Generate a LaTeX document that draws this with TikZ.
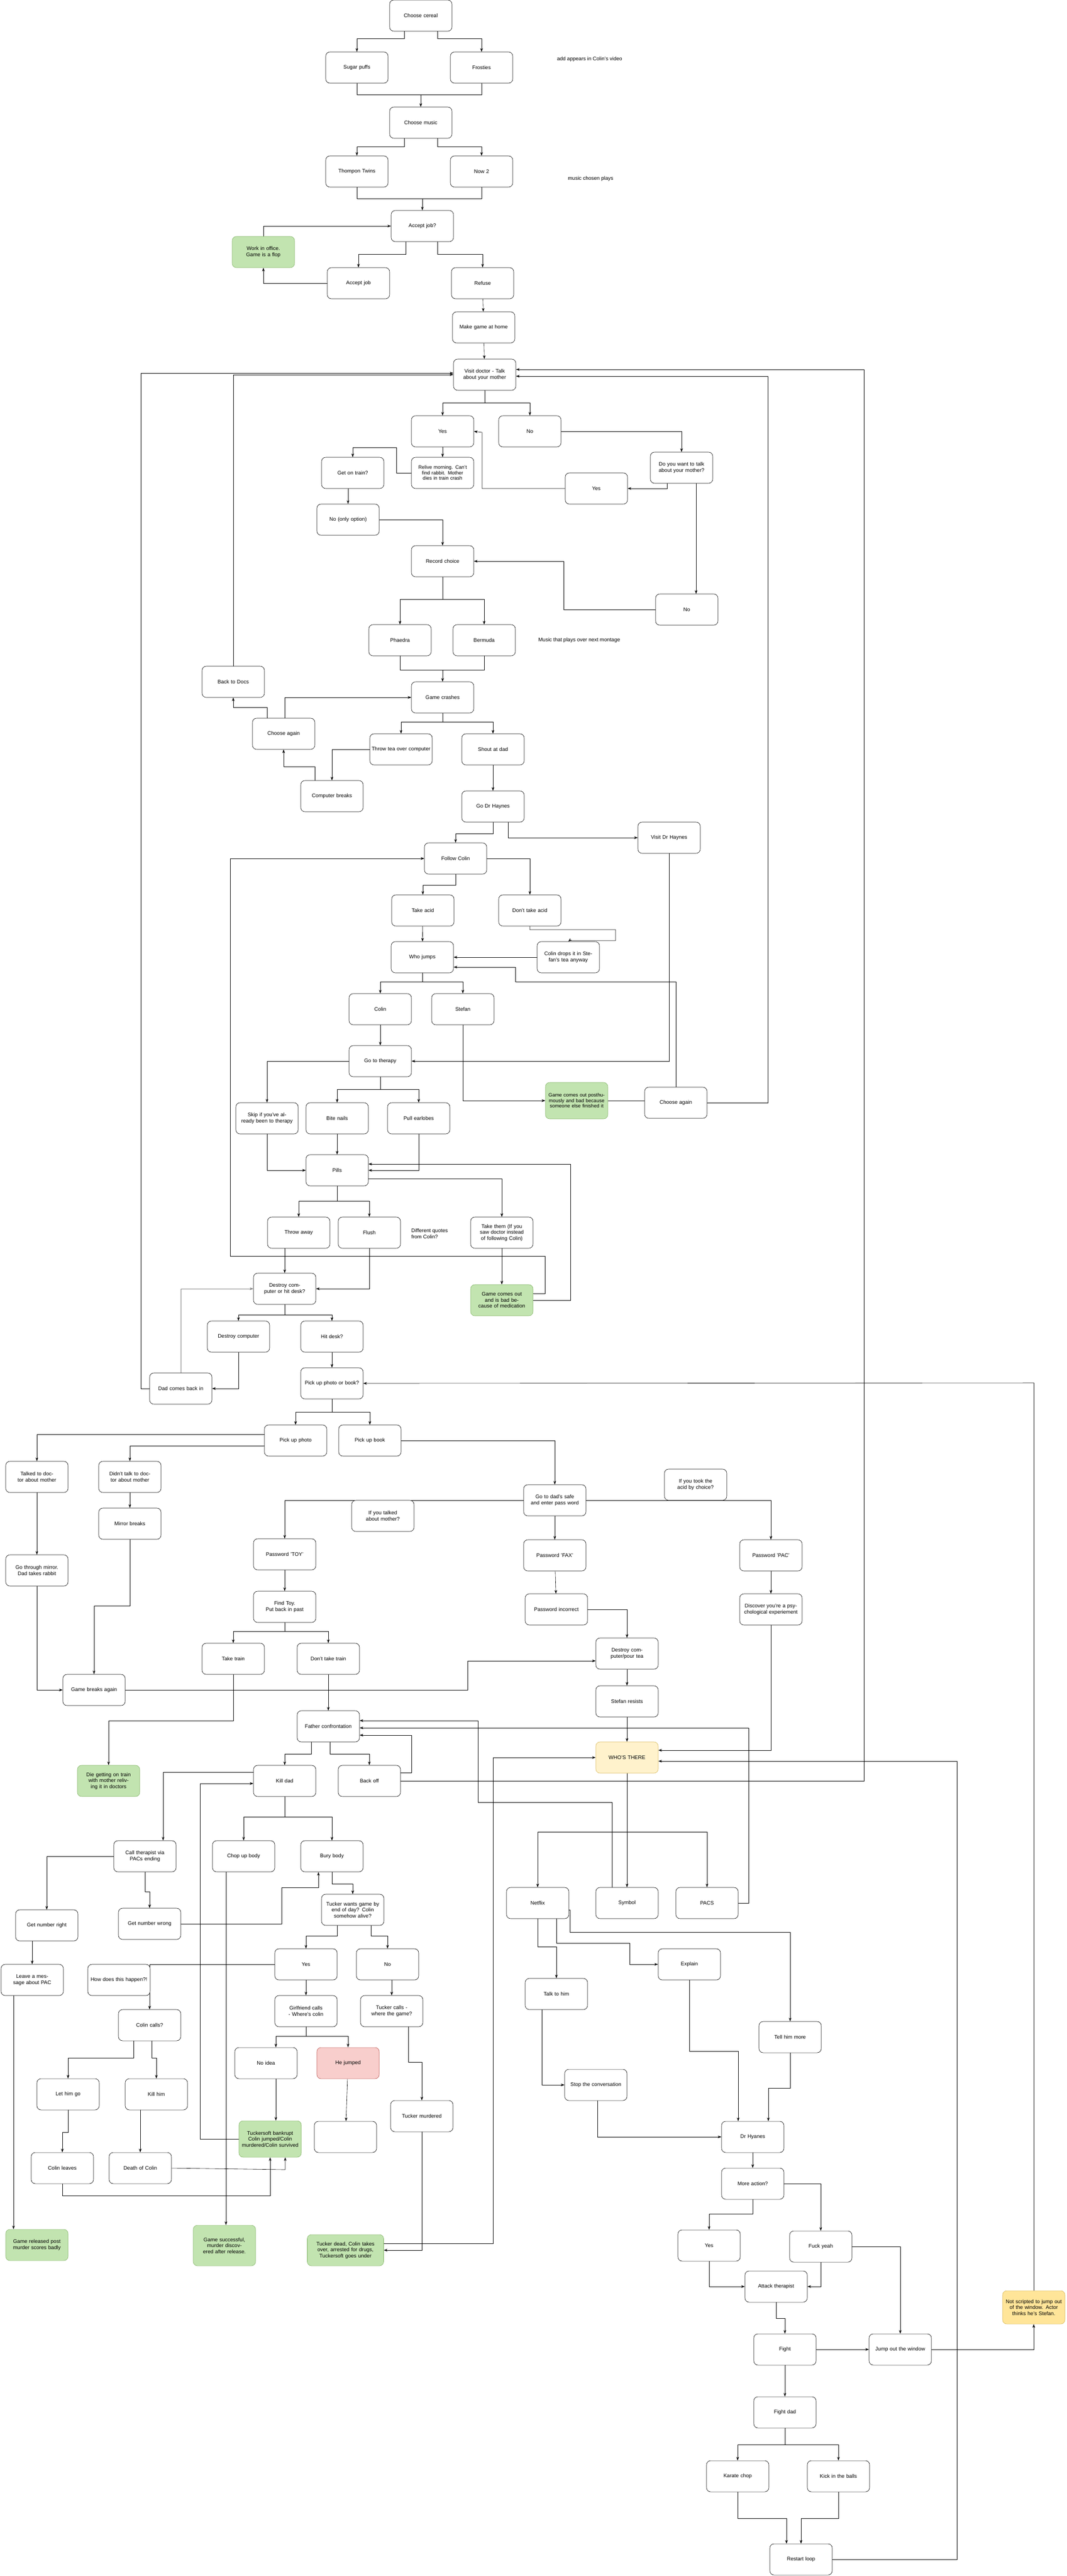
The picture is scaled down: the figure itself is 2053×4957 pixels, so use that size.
\documentclass[tikz,border=0pt]{standalone}
\usepackage{fontspec}
\setmainfont{Liberation Sans}
\usetikzlibrary{arrows.meta,calc,backgrounds}
\definecolor{gf}{HTML}{C2E4B0}\definecolor{gd}{HTML}{82B366}
\definecolor{yf}{HTML}{FFF2CC}\definecolor{yd}{HTML}{D6B656}
\definecolor{yf2}{HTML}{FFE599}
\definecolor{rf}{HTML}{F8CECC}\definecolor{rd}{HTML}{B85450}
\begin{document}
\begin{tikzpicture}[x=1pt,y=-1pt,
 box/.style={draw,rounded corners=8pt,minimum width=120pt,minimum height=60pt,text width=114pt,align=center,inner sep=2pt,font=\fontsize{10}{11.5}\selectfont,fill=white},
 green/.style={box,fill=gf,draw=gd},
 yel/.style={box,fill=yf,draw=yd},
 red/.style={box,fill=rf,draw=rd},
 lab/.style={font=\fontsize{10}{11.5}\selectfont,align=left},
 a/.style={-{Stealth[length=7pt,width=5pt]},line width=0.6pt},
 every path/.style={line width=0.6pt}]
\useasboundingbox (0,0) rectangle (2053,4957);
% nodes
\node[box] (cc) at (810,30) {Choose cereal};
\node[box] (sp) at (687,130) {Sugar puffs};
\node[box] (fr) at (927,130) {Frosties};
\node[lab] (l1) at (1135,114) {add appears in Colin's video};
\node[box] (cm) at (810,236) {Choose music};
\node[box] (tt) at (687,330) {Thompon Twins};
\node[box] (nw) at (927,330) {Now 2};
\node[lab] (l2) at (1137,344) {music chosen plays};
\node[box] (aj) at (813,435) {Accept job?};
\node[green] (wo) at (507,485) {Work in office.\\Game is a flop};
\node[box] (ajb) at (690,545) {Accept job};
\node[box] (rf) at (929,545) {Refuse};
\node[box] (mg) at (931,630) {Make game at home};
\node[box] (vd) at (933,721) {Visit doctor - Talk about your mother};
\node[box] (y1) at (852,830) {Yes};
\node[box] (n1) at (1020,830) {No};
\node[box] (got) at (679,910) {Get on train?};
\node[box,font=\fontsize{9.5}{10.5}\selectfont] (rel) at (852,910) {Relive morning. Can't find rabbit. Mother dies in train crash};
\node[box] (dyw) at (1312,900) {Do you want to talk about your mother?};
\node[box] (y2) at (1148,940) {Yes};
\node[box] (noo) at (670,1000) {No (only option)};
\node[box] (rc) at (852,1080) {Record choice};
\node[box] (n2) at (1322,1173) {No};
\node[box] (ph) at (770,1232) {Phaedra};
\node[box] (be) at (932,1232) {Bermuda};
\node[lab] (l3) at (1115,1232) {Music that plays over next montage};
\node[box] (btd) at (449,1312) {Back to Docs};
\node[box] (gc) at (852,1342) {Game crashes};
\node[box] (ca) at (546,1412) {Choose again};
\node[box] (tea) at (772,1442) {Throw tea over computer};
\node[box] (sad) at (949,1442) {Shout at dad};
\node[box] (cb) at (639,1532) {Computer breaks};
\node[box] (gdh) at (949,1552) {Go Dr Haynes};
\node[box] (vdh) at (1288,1612) {Visit Dr Haynes};
\node[box] (fc) at (877,1652) {Follow Colin};
\node[box] (ta) at (814,1752) {Take acid};
\node[box] (dta) at (1020,1752) {Don't take acid};
\node[box] (wj) at (813,1842) {Who jumps};
\node[box] (cd) at (1094,1842) {Colin drops it in Stefan's tea anyway};
\node[box] (col) at (732,1942) {Colin};
\node[box] (ste) at (891,1942) {Stefan};
\node[box] (gtt) at (732,2042) {Go to therapy};
\node[green,minimum height=70pt,font=\fontsize{9.5}{10.5}\selectfont] (gcp) at (1110,2118) {Game comes out posthumously and bad because someone else finished it};
\node[box] (ca2) at (1301,2122) {Choose again};
\node[box] (skip) at (514,2152) {Skip if you've already been to therapy};
\node[box] (bite) at (649,2152) {Bite nails};
\node[box] (pull) at (806,2152) {Pull earlobes};
\node[box] (pills) at (649,2252) {Pills};
\node[box] (tw) at (575,2372) {Throw away};
\node[box] (fl) at (711,2372) {Flush};
\node[lab] (l4) at (827,2374) {Different quotes\\from Colin?};
\node[box] (tk) at (966,2372) {Take them (If you saw doctor instead of following Colin)};
\node[box] (dch) at (548,2480) {Destroy computer or hit desk?};
\node[green] (gcm) at (966,2502) {Game comes out and is bad because of medication};
\node[box] (dc) at (459,2572) {Destroy computer};
\node[box] (hd) at (639,2572) {Hit desk?};
\node[box] (dcb) at (348,2672) {Dad comes back in};
\node[box] (pupb) at (639,2662) {Pick up photo or book?};
\node[box] (pph) at (569,2772) {Pick up photo};
\node[box] (pbk) at (712,2772) {Pick up book};
\node[box] (tdm) at (71,2842) {Talked to doctor about mother};
\node[box] (dtd) at (250,2842) {Didn't talk to doctor about mother};
\node[box] (acid) at (1339,2857) {If you took the acid by choice?};
\node[box] (safe) at (1068,2887) {Go to dad's safe and enter pass word};
\node[box] (itm) at (737,2917) {If you talked about mother?};
\node[box] (mb) at (250,2932) {Mirror breaks};
\node[box] (ptoy) at (548,2991) {Password 'TOY'};
\node[box] (pfax) at (1068,2993) {Password 'FAX'};
\node[box] (ppac) at (1484,2993) {Password 'PAC'};
\node[box] (gtm) at (71,3022) {Go through mirror. Dad takes rabbit};
\node[box] (ft) at (548,3092) {Find Toy.\\Put back in past};
\node[box] (pinc) at (1071,3097) {Password incorrect};
\node[box] (disc) at (1484,3097) {Discover you're a psychological experiement};
\node[box] (ttr) at (449,3192) {Take train};
\node[box] (dtt) at (632,3192) {Don't take train};
\node[box] (dcpt) at (1207,3182) {Destroy computer/pour tea};
\node[box] (gba) at (181,3252) {Game breaks again};
\node[box] (sr) at (1207,3274) {Stefan resists};
\node[box] (fcon) at (632,3322) {Father confrontation};
\node[yel] (wt) at (1207,3382) {WHO'S THERE};
\node[green] (die) at (209,3427) {Die getting on train with mother reliving it in doctors};
\node[box] (kd) at (548,3427) {Kill dad};
\node[box] (bo) at (711,3427) {Back off};
\node[box] (cth) at (279,3572) {Call therapist via PACs ending};
\node[box] (chop) at (469,3572) {Chop up body};
\node[box] (bb) at (639,3572) {Bury body};
\node[box] (nf) at (1035,3662) {Netflix};
\node[box] (sym) at (1207,3662) {Symbol};
\node[box] (pacs) at (1361,3662) {PACS};
\node[box] (twg) at (679,3675) {Tucker wants game by end of day? Colin somehow alive?};
\node[box] (gnr) at (90,3705) {Get number right};
\node[box] (gnw) at (288,3702) {Get number wrong};
\node[box] (y3) at (589,3780) {Yes};
\node[box] (n3) at (746,3780) {No};
\node[box] (ex) at (1327,3780) {Explain};
\node[box] (lm) at (62,3810) {Leave a message about PAC};
\node[box] (hdt) at (229,3810) {How does this happen?!};
\node[box] (talk) at (1071,3837) {Talk to him};
\node[box] (gfc) at (589,3870) {Girlfriend calls - Where's colin};
\node[box] (tc) at (754,3870) {Tucker calls - where the game?};
\node[box] (ccal) at (288,3897) {Colin calls?};
\node[box] (tmore) at (1521,3920) {Tell him more};
\node[box] (nid) at (512,3970) {No idea};
\node[red] (hj) at (670,3970) {He jumped};
\node[box] (lhg) at (131,4030) {Let him go};
\node[box] (khim) at (301,4030) {Kill him};
\node[box] (stop) at (1147,4012) {Stop the conversation};
\node[box] (tm) at (812,4072) {Tucker murdered};
\node[green,minimum height=70pt] (tb) at (520,4116) {Tuckersoft bankrupt Colin jumped/Colin murdered/Colin survived};
\node[box] (emp) at (665,4112) {};
\node[box] (dh) at (1449,4112) {Dr Hyanes};
\node[box] (clv) at (120,4172) {Colin leaves};
\node[box] (doc) at (270,4172) {Death of Colin};
\node[box] (ma) at (1449,4202) {More action?};
\node[green] (grl) at (71,4320) {Game released post murder scores badly};
\node[green,minimum height=78pt] (gs) at (432,4321) {Game successful, murder discovered after release.};
\node[green,minimum width=147pt,text width=140pt] (td) at (665,4330) {Tucker dead, Colin takes over, arrested for drugs, Tuckersoft goes under};
\node[box] (y4) at (1365,4321) {Yes};
\node[box] (fy) at (1580,4323) {Fuck yeah};
\node[box] (at) at (1494,4400) {Attack therapist};
\node[box,fill=yf2,draw=yd,minimum height=64pt] (ns) at (1990,4440) {Not scripted to jump out of the window. Actor thinks he's Stefan.};
\node[box] (fi) at (1511,4521) {Fight};
\node[box] (jw) at (1733,4521) {Jump out the window};
\node[box] (fdd) at (1511,4642) {Fight  dad};
\node[box] (kc) at (1420,4765) {Karate chop};
\node[box] (kb) at (1614,4765) {Kick in the balls};
\node[box] (rl) at (1542,4925) {Restart loop};
\coordinate (j1) at (810,182);
\coordinate (j2) at (813,382);
\coordinate (j3) at (852,1289);
\coordinate (jn) at (1990,2661);
% edges
\begin{scope}[on background layer]
\draw[a] ([xshift=-32pt]cc.south) -- (778,74) -- (687,74) -- (sp.north);
\draw[a] ([xshift=32pt]cc.south) -- (842,74) -- (927,74) -- (fr.north);
\draw (sp.south) -- (687,182) -- (927,182) -- (fr.south);
\draw[a] (j1) -- (cm.north);
\draw[a] ([xshift=-32pt]cm.south) -- (778,282) -- (687,282) -- (tt.north);
\draw[a] ([xshift=32pt]cm.south) -- (842,282) -- (927,282) -- (nw.north);
\draw (tt.south) -- (687,382) -- (927,382) -- (nw.south);
\draw[a] (j2) -- (aj.north);
\draw[a] ([xshift=-32pt]aj.south) -- (781,489) -- (690,489) -- (ajb.north);
\draw[a] ([xshift=29pt]aj.south) -- (842,489) -- (929,489) -- (rf.north);
\draw[a] (ajb.west) -| (wo.south);
\draw[a] (wo.north) |- (aj.west);
\draw[a] (rf) -- (mg);
\draw[a] (mg) -- (vd);
\draw[a] (vd.south) -- (933,775) -- (852,775) -- (y1.north);
\draw[a] (vd.south) -- (933,775) -- (1020,775) -- (n1.north);
\draw[a] (n1.east) -| (dyw.north);
\draw[a] ([xshift=-28pt]dyw.south) |- (y2.east);
\draw[a] ([xshift=28pt]dyw.south) -- ([xshift=18pt]n2.north);
\draw[a] (y2.west) -- (928,940) -- (928,832) -- (y1.east);
\draw[a] (y1) -- (rel);
\draw[a] (rel.west) -- (763,910) -- (763,861) -- (679,861) -- (got.north);
\draw[a] (noo.north |- got.south) -- (noo.north);
\draw[a] (noo.east) -| (rc.north);
\draw[a] (n2.west) -- (1085,1173) -- (1085,1080) -- (rc.east);
\draw[a] (rc.south) -- (852,1153) -- (770,1153) -- (ph.north);
\draw[a] (rc.south) -- (852,1153) -- (932,1153) -- (be.north);
\draw (ph.south) -- (770,1289) -- (932,1289) -- (be.south);
\draw[a] (j3) -- (gc.north);
\draw[a] (gc.south) -- (852,1389) -- (772,1389) -- (tea.north);
\draw[a] (gc.south) -- (852,1389) -- (949,1389) -- (sad.north);
\draw[a] (tea.west) -- (639,1442) -- (cb.north);
\draw[a] ([xshift=-33pt]cb.north) -- (606,1475) -- (546,1475) -- (ca.south);
\draw[a] ([xshift=-32pt]ca.north) -- (514,1361) -- (449,1361) -- (btd.south);
\draw[a] ([xshift=2pt]ca.north) |- (gc.west);
\draw[a] (btd.north) |- (vd.west);
\draw[a] (sad) -- (gdh);
\draw[a] (gdh.south) -- (949,1604) -- (877,1604) -- (fc.north);
\draw[a] ([xshift=29pt]gdh.south) |- (vdh.west);
\draw[a] (vdh.south) |- (gtt.east);
\draw[a] ([yshift=13pt]gcm.east) -- (1049,2489) -- (1049,2417) -- (443,2417) |- (fc.west);
\draw[a] (gcm.east) -- (1098,2502) -- (1098,2240) -- ([yshift=12pt]pills.east);
\draw[a] (fc.south) -- (877,1703) -- (814,1703) -- (ta.north);
\draw[a] (fc.east) -| (dta.north);
\draw[a] (ta) -- (wj);
\draw[a] (dta.south) -- (1020,1789) -- (1185,1789) -- (1185,1810) -- (1096,1810) -- (cd.north);
\draw[a] (cd.west) -- (wj.east);
\draw[a] (ca2.north) -- (1301,1889) -- (992,1889) -- (992,1861) -- ([yshift=-19pt]wj.east);
\draw[a] (wj.south) -- (813,1889) -- (732,1889) -- (col.north);
\draw[a] (wj.south) -- (813,1889) -- (891,1889) -- (ste.north);
\draw[a] (col) -- (gtt);
\draw[a] (ste.south) |- (gcp.west);
\draw (gcp.east) -- (gcp.east -| ca2.west);
\draw[a] (ca2.east) -- (1478,2122) |- ([yshift=-3pt]vd.east);
\draw[a] (gtt.west) -| (skip.north);
\draw[a] (gtt.south) -- (732,2096) -- (649,2096) -- (bite.north);
\draw[a] (gtt.south) -- (732,2096) -- (806,2096) -- (pull.north);
\draw[a] (skip.south) |- (pills.west);
\draw[a] (bite) -- (pills);
\draw[a] (pull.south) |- (pills.east);
\draw[a] ([yshift=-16pt]pills.east) -- (966,2268) -- (tk.north);
\draw[a] (pills.south) -- (649,2311) -- (575,2311) -- (tw.north);
\draw[a] (pills.south) -- (649,2311) -- (711,2311) -- (fl.north);
\draw[a] (dch.north |- tw.south) -- (dch.north);
\draw[a] (fl.south) |- (dch.east);
\draw[a] (tk) -- (gcm);
\draw[a] (dch.south) -- (548,2530) -- (459,2530) -- (dc.north);
\draw[a] (dch.south) -- (548,2530) -- (639,2530) -- (hd.north);
\draw[a] (dc.south) |- (dcb.east);
\draw[a,gray] (dcb.north) |- (dch.west);
\draw[a] (dcb.west) -- (271,2672) |- ([yshift=3pt]vd.west);
\draw[a] (hd) -- (pupb);
\draw[a] (pupb.south) -- (639,2717) -- (569,2717) -- (pph.north);
\draw[a] (pupb.south) -- (639,2717) -- (712,2717) -- (pbk.north);
\draw[a] ([yshift=12pt]pph.west) -| (tdm.north);
\draw[a] ([yshift=-10pt]pph.west) -| (dtd.north);
\draw[a] (pbk.east) -| (safe.north);
\draw[a] (tdm) -- (gtm);
\draw[a] (dtd) -- (mb);
\draw[a] (mb.south) -- (250,3090) -- (181,3090) -- (gba.north);
\draw[a] (gtm.south) |- (gba.west);
\draw[a] (gba.east) -- (900,3252) -- (900,3196) -- ([yshift=-14pt]dcpt.west);
\draw[a] (safe.west) -| (ptoy.north);
\draw[a] (safe) -- (pfax);
\draw[a] (safe.east) -| (ppac.north);
\draw[a] (ptoy) -- (ft);
\draw[a] (pfax) -- (pinc);
\draw[a] (ppac) -- (disc);
\draw[a] (ft.south) -- (548,3139) -- (449,3139) -- (ttr.north);
\draw[a] (ft.south) -- (548,3139) -- (632,3139) -- (dtt.north);
\draw[a] (pinc.east) -| (dcpt.north);
\draw[a] (dcpt) -- (sr);
\draw[a] (sr) -- (wt);
\draw[a] (disc.south) |- ([yshift=14pt]wt.east);
\draw[a] (ttr.south) -- (449,3311) -- (209,3311) -- (die.north);
\draw[a] (dtt) -- (fcon);
\draw[a] ([xshift=-33pt]fcon.south) -- (599,3375) -- (548,3375) -- (kd.north);
\draw[a] ([xshift=3pt]fcon.south) -- (635,3375) -- (711,3375) -- (bo.north);
\draw[a] ([yshift=16pt]bo.east) -- (792,3411) -- (792,3339) -- ([yshift=-17pt]fcon.east);
\draw[a] (bo.east) -- (1663,3427) -- (1663,711) -- ([yshift=10pt]vd.east);
\draw[a] ([yshift=17pt]kd.west) -- (314,3410) -- ([xshift=35pt]cth.north);
\draw[a] (kd.south) -- (548,3496) -- (469,3496) -- (chop.north);
\draw[a] (kd.south) -- (548,3496) -- (639,3496) -- (bb.north);
\draw[a] (tb.west) -- (385,4116) -- (385,3432) -- ([yshift=-5pt]kd.west);
\draw[a] ([xshift=-29pt]sym.north) -- (1178,3468) -- (920,3468) -- (920,3311) -- ([yshift=11pt]fcon.east);
\draw[a] (pacs.east) -- (1441,3662) -- (1441,3325) -- ([yshift=-3pt]fcon.east);
\draw[a] (wt.south) -- (1207,3525) -- (1035,3525) -- (nf.north);
\draw[a] (wt.south) -- (1207,3525) -- (1361,3525) -- (pacs.north);
\draw[a] (wt) -- (sym);
\draw[a] ([yshift=13pt]td.east) -- (949,4317) |- (wt.west);
\draw[a] (rl.east) -- (1842,4925) |- ([yshift=-7pt]wt.east);
\draw[a] ([xshift=36pt]nf.south) -- (1071,3739) -- (1212,3739) |- (ex.west);
\draw[a] (nf.south) -- (1035,3746) -- (1071,3746) -- (talk.north);
\draw[a] ([yshift=-13pt]nf.east) -- (1097,3675) -- (1097,3718) -- (1521,3718) -- (tmore.north);
\draw[a] ([xshift=-28pt]talk.south) |- (stop.west);
\draw[a] (ex.south) -- (1327,3947) -- (1421,3947) -- ([xshift=-28pt]dh.north);
\draw[a] (tmore.south) -- (1521,4018) -- (1479,4018) -- ([xshift=30pt]dh.north);
\draw[a] ([xshift=3pt]stop.south) |- (dh.west);
\draw[a] (dh) -- (ma);
\draw[a] (ma.south) -- (1449,4260) -- (1365,4260) -- (y4.north);
\draw[a] (ma.east) -- (1580,4202) -- (fy.north);
\draw[a] (y4.south) |- (at.west);
\draw[a] (fy.south) |- (at.east);
\draw[a] (at.south) -- (1494,4461) -- (1511,4461) -- (fi.north);
\draw[a] (fi) -- (jw);
\draw[a] (fy.east) -| (jw.north);
\draw[a] (jw.east) -| (ns.south);
\draw (ns.north) -- (jn);
\draw[a] (jn) -- (pupb.east);
\draw[a] (fi) -- (fdd);
\draw[a] (fdd.south) -- (1511,4704) -- (1420,4704) -- (kc.north);
\draw[a] (fdd.south) -- (1511,4704) -- (1614,4704) -- (kb.north);
\draw[a] (kc.south) -- (1420,4846) -- (1514,4846) -- ([xshift=-28pt]rl.north);
\draw[a] (kb.south) -- (1614,4846) -- (1542,4846) -- (rl.north);
\draw[a] (cth.west) -| (gnr.north);
\draw[a] (cth.south) -- (279,3640) -- (288,3640) -- (gnw.north);
\draw[a] (lm.north |- gnr.south) -- (lm.north);
\draw[a] (gnw.east) -- (542,3702) -- (542,3632) -- (613,3632) -- ([xshift=-26pt]bb.south);
\draw[a] (bb.south) -- (639,3625) -- (679,3625) -- (twg.north);
\draw[a] ([xshift=-34pt]chop.south) -- ([xshift=3pt]gs.north);
\draw[a] ([xshift=-30pt]twg.south) -- (649,3725) -- (589,3725) -- (y3.north);
\draw[a] ([xshift=35pt]twg.south) -- (714,3725) -- (746,3725) -- (n3.north);
\draw[a] (y3.west) -| (ccal.north);
\draw[a] (y3) -- (gfc);
\draw[a] (tc.north |- n3.south) -- (tc.north);
\draw[a] (gfc.south) -- (589,3918) -- (531,3918) -- ([xshift=19pt]nid.north);
\draw[a] (gfc.south) -- (589,3918) -- (670,3918) -- (hj.north);
\draw[a] ([xshift=19pt]nid.south) -- ([xshift=11pt]tb.north);
\draw[a] (hj) -- (emp);
\draw[a] ([xshift=32pt]tc.south) -- (786,3968) -- (812,3968) -- (tm.north);
\draw[a] (tm.south) |- (td.east);
\draw[a] ([xshift=-31pt]ccal.south) -- (257,3960) -- (131,3960) -- (lhg.north);
\draw[a] ([xshift=4pt]ccal.south) -- (292,3960) -- (301,3960) -- (khim.north);
\draw[a] (lhg.south) -- (131,4103) -- (120,4103) -- (clv.north);
\draw[a] (doc.north |- khim.south) -- (doc.north);
\draw[a] (doc.east) -- (549,4175) -- ([xshift=29pt]tb.south);
\draw[a] (clv.south) -- (120,4225) -- (520,4225) -- (tb.south);
\draw[a] ([xshift=-36pt]lm.south) -- ([xshift=-45pt]grl.north);
\end{scope}
\end{tikzpicture}
\end{document}
